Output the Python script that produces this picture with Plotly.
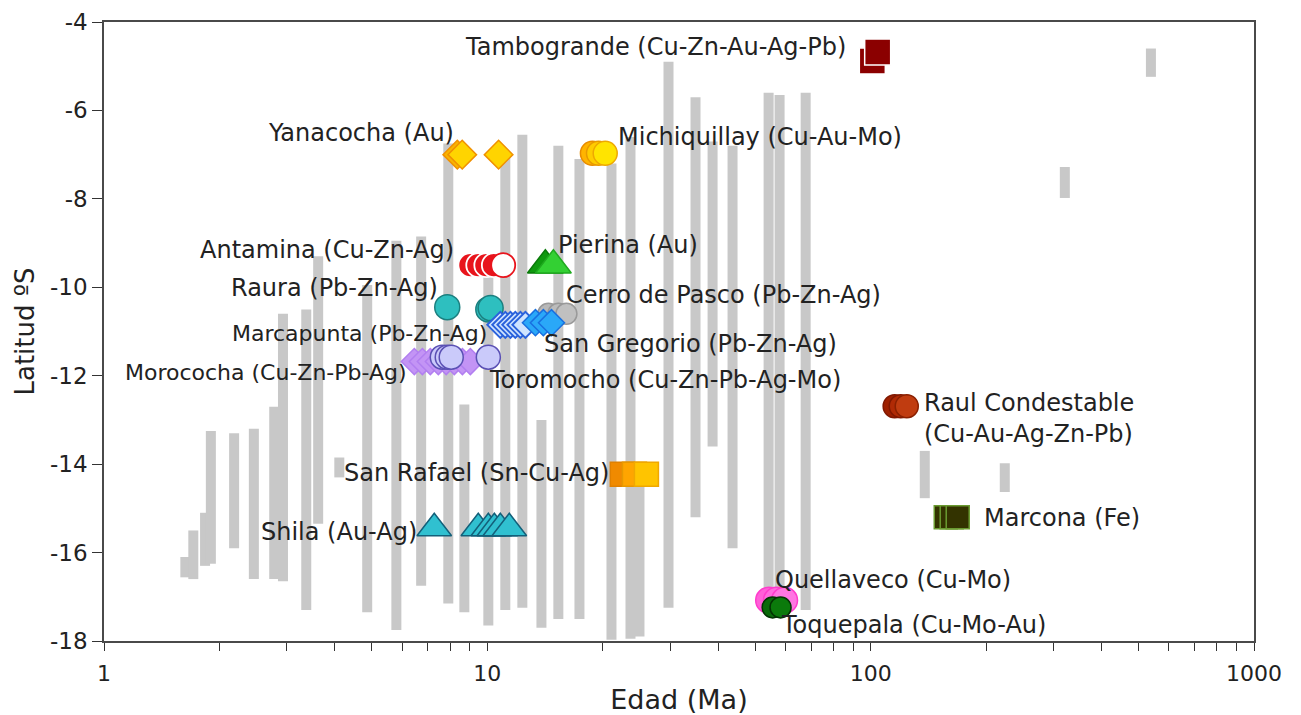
import math
import plotly.graph_objects as go

# ---- Age ranges of magmatic units (grey bars): age (Ma), northern and southern latitude ----
bar_age = [1.63, 1.71, 1.835, 1.90, 2.185, 2.46, 2.78, 2.93, 3.37, 3.62, 4.11, 4.86,
           5.79, 6.72, 7.91, 8.71, 10.06, 11.14, 12.34, 13.84, 15.32, 17.39, 21.08,
           23.63, 24.94, 29.69, 34.92, 38.69, 43.62, 54.17, 57.86, 67.67, 138.4,
           223.8, 321.0, 538.4]
bar_top = [-16.1, -15.5, -15.1, -13.25, -13.3, -13.2, -12.7, -10.6, -10.5, -9.3, -13.85,
           -9.95, -8.95, -8.85, -6.75, -12.65, -9.6, -7.0, -6.55, -13.0, -6.8, -7.1,
           -7.2, -6.6, -14.2, -4.9, -5.7, -6.7, -6.8, -5.6, -5.65, -5.6, -13.7, -13.98,
           -7.28, -4.6]
bar_bottom = [-16.56, -16.6, -16.3, -16.25, -15.9, -16.6, -16.6, -16.65, -17.3, -15.35,
              -14.3, -17.35, -17.75, -16.75, -17.15, -17.35, -17.65, -17.3, -17.25, -17.7,
              -17.5, -17.5, -17.97, -17.95, -17.9, -17.25, -15.2, -13.6, -15.9, -17.2,
              -17.3, -17.3, -14.77, -14.63, -7.98, -5.24]

# ---- Dated ore deposits: age (Ma) and latitude (°S) ----
tambogrande_age = [101.0, 104.3]
tambogrande_lat = [-4.88, -4.68]
yanacocha_age = [8.35, 8.6, 10.7]
yanacocha_lat = [-7.0, -7.0, -7.0]
michiquillay_age = [18.8, 19.5, 20.3]
michiquillay_lat = [-6.97, -6.97, -6.97]
antamina_age = [9.03, 9.47, 9.94, 10.4, 11.0]
antamina_lat = [-9.5, -9.5, -9.5, -9.5, -9.5]
pierina_age = [14.17, 14.87]
pierina_lat = [-9.5, -9.5]
raura_age = [7.86, 10.06, 10.2]
raura_lat = [-10.45, -10.5, -10.47]
cerro_pasco_age = [14.43, 15.32, 16.08]
cerro_pasco_lat = [-10.6, -10.6, -10.6]
marcapunta_age = [10.81, 11.14, 11.49, 11.83, 12.2, 12.57]
marcapunta_lat = [-10.85, -10.85, -10.85, -10.85, -10.85, -10.85]
san_gregorio_age = [13.35, 14.0, 14.7]
san_gregorio_lat = [-10.8, -10.8, -10.8]
morococha_age = [6.45, 6.77, 7.10, 7.45, 7.81, 8.20, 8.61, 9.03]
morococha_lat = [-11.68] * 8
toromocho_age = [7.63, 7.86, 8.05, 10.06]
toromocho_lat = [-11.58, -11.58, -11.58, -11.58]
raul_age = [115.5, 119.8, 124.2]
raul_lat = [-12.69, -12.69, -12.69]
san_rafael_age = [22.5, 24.2, 26.0]
san_rafael_lat = [-14.23, -14.23, -14.23]
shila_age = [7.27, 9.47, 10.06, 10.43, 10.81, 11.41]
shila_lat = [-15.45] * 6
marcona_age = [157.0, 162.7, 168.7]
marcona_lat = [-15.2, -15.2, -15.2]
quellaveco_age = [54.2, 56.8, 59.6]
quellaveco_lat = [-17.08, -17.08, -17.08]
toquepala_age = [55.5, 58.2]
toquepala_lat = [-17.24, -17.24]

# ---- Deposit labels ----
label_text = [
    "Tambogrande (Cu-Zn-Au-Ag-Pb)", "Yanacocha (Au)", "Michiquillay (Cu-Au-Mo)",
    "Antamina (Cu-Zn-Ag)", "Pierina (Au)", "Raura (Pb-Zn-Ag)",
    "Cerro de Pasco (Pb-Zn-Ag)", "Marcapunta (Pb-Zn-Ag)", "San Gregorio (Pb-Zn-Ag)",
    "Morococha (Cu-Zn-Pb-Ag)", "Toromocho (Cu-Zn-Pb-Ag-Mo)",
    "Raul Condestable<br>(Cu-Au-Ag-Zn-Pb)", "San Rafael (Sn-Cu-Ag)", "Shila (Au-Ag)",
    "Marcona (Fe)", "Quellaveco (Cu-Mo)", "Toquepala (Cu-Mo-Au)",
]

# x tick values of the logarithmic age axis
x_tickvals = [m * 10 ** d for d in range(3) for m in range(1, 10)] + [1000]
x_ticktext = [str(v) if v in (1, 10, 100, 1000) else "" for v in x_tickvals]
y_tickvals = list(range(-18, -3, 2))
y_ticktext = [str(v) for v in y_tickvals]

FONT = "DejaVu Sans"
TEXT = "#222222"

fig = go.Figure()

# grey range bars, one vertical segment per unit
bx, by = [], []
for a, t, b in zip(bar_age, bar_top, bar_bottom):
    bx += [a, a, None]
    by += [t, b, None]
fig.add_trace(go.Scatter(x=bx, y=by, mode="lines",
                         line=dict(color="#c8c8c8", width=10),
                         hoverinfo="skip", showlegend=False))


def add_group(name, ages, lats, symbol, size, fills, edges, lw=1.5):
    fig.add_trace(go.Scatter(
        x=ages, y=lats, mode="markers", name=name, showlegend=False,
        marker=dict(symbol=symbol, size=size, color=fills,
                    line=dict(color=edges, width=lw), opacity=1.0),
    ))


add_group("Tambogrande", tambogrande_age, tambogrande_lat, "square", 26,
          ["#8b0000", "#8b0000"], ["#ffffff", "#ffffff"], 1.5)
add_group("Yanacocha", yanacocha_age, yanacocha_lat, "diamond", 22,
          ["#f8b400", "#ffd400", "#ffd400"], ["#f09000", "#f09000", "#f09000"])
add_group("Michiquillay", michiquillay_age, michiquillay_lat, "circle", 24,
          ["#ffb400", "#ffcc00", "#ffe400"], ["#e88c00", "#e89a00", "#eea800"])
add_group("Antamina", antamina_age, antamina_lat, "circle", 24,
          ["#e8141c", "#e8141c", "#e8141c", "#e8141c", "#ffffff"],
          ["#ffffff", "#ffffff", "#ffffff", "#ffffff", "#e8141c"], 1.8)
add_group("Pierina", pierina_age, pierina_lat, "triangle-up", 31,
          ["#0f9a0f", "#33d033"], ["#0a7a0a", "#1faa1f"])
add_group("Raura", raura_age, raura_lat, "circle", 25,
          ["#2ebfbf", "#2ebfbf", "#2ebfbf"], ["#1b7f7f", "#1b7f7f", "#1b7f7f"])
add_group("Cerro de Pasco", cerro_pasco_age, cerro_pasco_lat, "circle", 21,
          ["#b8b8b8", "#bcbcbc", "#c0c0c0"], ["#999999", "#999999", "#999999"])
add_group("Marcapunta", marcapunta_age, marcapunta_lat, "diamond", 20,
          ["#cfe4ff"] * 6, ["#2a62dc"] * 6, 2)
add_group("San Gregorio", san_gregorio_age, san_gregorio_lat, "diamond", 20,
          ["#2aa8f8", "#2aa8f8", "#2aa8f8"], ["#1870e0", "#1870e0", "#1870e0"])
add_group("Morococha", morococha_age, morococha_lat, "diamond", 20,
          ["#c394f5"] * 8, ["#b27ff0"] * 8)
add_group("Toromocho", toromocho_age, toromocho_lat, "circle", 24,
          ["#cacafa"] * 4, ["#5a50b4"] * 4)
add_group("Raul Condestable", raul_age, raul_lat, "circle", 23,
          ["#9e2000", "#b02a05", "#c03c10"], ["#801800", "#801800", "#8a2000"])
add_group("San Rafael", san_rafael_age, san_rafael_lat, "square", 24,
          ["#f08a00", "#ffa500", "#ffc400"], ["#e08000", "#e89800", "#f0a800"])
add_group("Shila", shila_age, shila_lat, "triangle-up", 30,
          ["#30c0d0"] * 6, ["#13607a"] * 6)
add_group("Marcona", marcona_age, marcona_lat, "square", 23,
          ["#333300", "#333300", "#333300"], ["#6a9a30", "#6a9a30", "#6a9a30"])
add_group("Quellaveco", quellaveco_age, quellaveco_lat, "circle", 26,
          ["#ff5fd8", "#ff6ade", "#ff76e2"], ["#ff3ccc", "#ff3ccc", "#ff3ccc"])
add_group("Toquepala", toquepala_age, toquepala_lat, "circle", 21,
          ["#0a6a0a", "#0b7a0b"], ["#033303", "#033303"])

# label anchors: (age, latitude, horizontal anchor, font size)
label_pos = [
    (86.5, -4.57, "right", 24), (8.25, -6.51, "right", 24), (21.85, -6.6, "left", 24),
    (8.25, -9.16, "right", 24), (15.23, -9.05, "left", 24), (7.49, -10.02, "right", 24),
    (15.98, -10.18, "left", 24), (10.06, -11.04, "right", 22), (14.0, -11.29, "left", 24),
    (6.22, -11.92, "right", 22), (10.06, -12.1, "left", 24), (136.7, -12.96, "left", 24),
    (20.83, -14.2, "right", 24), (6.6, -15.54, "right", 24), (196.1, -15.22, "left", 24),
    (55.8, -16.62, "left", 24), (57.86, -17.64, "left", 24),
]
for txt, (ax_, ay_, anc, fs) in zip(label_text, label_pos):
    fig.add_annotation(x=math.log10(ax_), y=ay_, xref="x", yref="y", text=txt,
                       showarrow=False, xanchor=anc, yanchor="middle", align="left",
                       font=dict(family=FONT, size=fs, color=TEXT), borderpad=0)

fig.update_layout(
    width=1301, height=715,
    margin=dict(l=104, r=47, t=22, b=74, autoexpand=False),
    paper_bgcolor="white", plot_bgcolor="white",
    showlegend=False,
    font=dict(family=FONT, color=TEXT),
    xaxis=dict(
        type="log", range=[0, 3], automargin=False,
        tickmode="array", tickvals=x_tickvals, ticktext=x_ticktext,
        ticks="outside", ticklen=8, tickwidth=1.3, tickcolor="#333333",
        ticklabelstandoff=4,
        tickfont=dict(family=FONT, size=22, color=TEXT),
        showline=True, linecolor="#4a4a4a", linewidth=1.5, mirror=True,
        showgrid=False, zeroline=False,
        title=dict(text="Edad (Ma)", font=dict(family=FONT, size=27, color=TEXT),
                   standoff=6),
    ),
    yaxis=dict(
        range=[-18, -4], automargin=False,
        tickmode="array", tickvals=y_tickvals, ticktext=y_ticktext,
        ticks="outside", ticklen=10, tickwidth=1.3, tickcolor="#333333",
        tickfont=dict(family=FONT, size=23, color=TEXT),
        showline=True, linecolor="#4a4a4a", linewidth=1.5, mirror=True,
        showgrid=False, zeroline=False,
        title=dict(text="Latitud ºS", font=dict(family=FONT, size=26, color=TEXT),
                   standoff=8),
    ),
)

fig.write_html("out.html")
